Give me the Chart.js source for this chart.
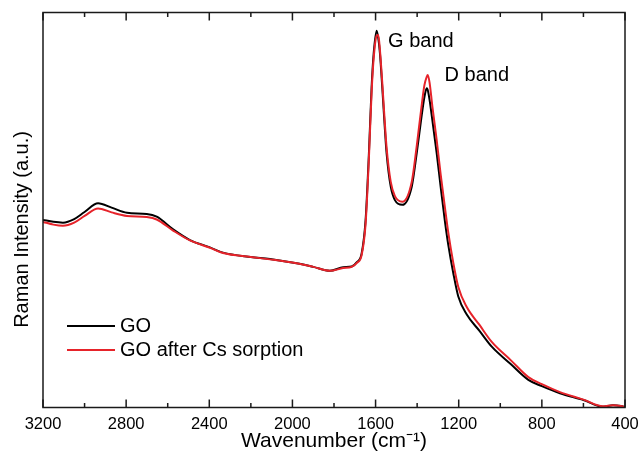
<!DOCTYPE html>
<html>
<head>
<meta charset="utf-8">
<script src="https://cdn.jsdelivr.net/npm/chart.js@4/dist/chart.umd.min.js"></script>
<style>
  body { margin: 0; background: #fff; }
  canvas { display: block; }
</style>
</head>
<body>
<canvas id="raman" width="638" height="455"></canvas>
<script>
// wavenumber (cm-1) and intensity (a.u.)
const wavenumbers = [3200, 3150, 3104, 3050, 3000, 2935, 2870, 2796, 2701, 2653, 2574, 2493, 2400, 2334, 2200, 2108, 1980, 1900, 1820, 1756, 1715, 1690, 1667, 1648, 1632, 1619, 1609, 1595, 1587, 1579, 1568, 1558, 1547, 1527, 1507, 1471, 1426, 1402, 1381, 1365, 1354, 1349, 1340, 1327, 1306, 1287, 1266, 1250, 1226, 1202, 1162, 1100, 1041, 950, 865, 800, 713, 600, 506, 458, 420, 400];
const goIntensity = [47.5, 47.0, 46.8, 47.7, 49.5, 51.7, 50.6, 49.3, 49.0, 48.3, 45.1, 42.4, 40.6, 39.2, 38.1, 37.6, 36.5, 35.6, 34.6, 35.5, 35.7, 36.8, 39.0, 47.5, 64.4, 81.2, 89.7, 95.4, 93.5, 89.7, 81.2, 72.8, 64.4, 55.9, 52.5, 51.3, 55.9, 64.4, 72.8, 78.6, 80.8, 80.4, 77.8, 72.8, 64.4, 55.9, 47.0, 41.1, 34.0, 28.1, 23.6, 19.4, 15.4, 11.0, 7.0, 5.4, 3.6, 1.9, 0.2, 0.6, 0.4, 0.1];
const goCsIntensity = [47.0, 46.3, 46.0, 46.8, 48.5, 50.4, 49.4, 48.5, 48.2, 47.6, 44.8, 42.3, 40.5, 39.1, 38.1, 37.5, 36.5, 35.6, 34.6, 35.3, 35.6, 36.6, 38.6, 46.5, 63.2, 79.9, 88.5, 94.1, 94.3, 90.5, 82.4, 74.1, 65.8, 57.1, 53.5, 52.1, 57.1, 66.2, 75.3, 81.6, 83.7, 84.2, 82.2, 76.3, 67.7, 59.1, 50.5, 44.2, 36.6, 30.5, 25.5, 20.9, 16.6, 12.0, 7.7, 5.9, 3.9, 2.0, 0.3, 0.6, 0.4, 0.1];
const seriesNames = ['GO', 'GO after Cs sorption'];
const seriesColors = ['#000000', '#e6232a'];
const xTickLabels = [3200, 2800, 2400, 2000, 1600, 1200, 800, 400];
const minorTicks = [3000, 2600, 2200, 1800, 1400, 1000, 600];
const bandLabels = [
  { text: 'G band', x: 1540, y: 92.6 },
  { text: 'D band', x: 1268, y: 84.0 }
];

const FONT = "'Liberation Sans', Arial, sans-serif";

function points(values) {
  return wavenumbers.map((w, i) => ({ x: w, y: values[i] }));
}

// frame with inward ticks, legend lines and the band labels
const decorations = {
  id: 'decorations',
  afterDraw(chart) {
    const ctx = chart.ctx;
    const area = chart.chartArea;
    const xs = chart.scales.x;
    const ys = chart.scales.y;
    ctx.save();
    ctx.strokeStyle = '#1a1a1a';
    ctx.lineWidth = 1.5;
    ctx.strokeRect(area.left, area.top, area.right - area.left, area.bottom - area.top);
    const tick = (v, len) => {
      const px = xs.getPixelForValue(v);
      ctx.beginPath();
      ctx.moveTo(px, area.bottom);
      ctx.lineTo(px, area.bottom - len);
      ctx.moveTo(px, area.top);
      ctx.lineTo(px, area.top + len);
      ctx.stroke();
    };
    xTickLabels.forEach(v => tick(v, 8));
    minorTicks.forEach(v => tick(v, 4.5));

    ctx.font = '20px ' + FONT;
    ctx.textBaseline = 'middle';
    ctx.textAlign = 'left';
    ctx.fillStyle = '#000';
    chart.data.datasets.forEach((ds, i) => {
      const y = 326 + i * 24;
      ctx.strokeStyle = ds.borderColor;
      ctx.lineWidth = 2;
      ctx.beginPath();
      ctx.moveTo(67, y);
      ctx.lineTo(115, y);
      ctx.stroke();
      ctx.fillText(ds.label, 120, y);
    });

    bandLabels.forEach(b => {
      ctx.fillText(b.text, xs.getPixelForValue(b.x), ys.getPixelForValue(b.y));
    });
    ctx.restore();
  }
};

new Chart(document.getElementById('raman'), {
  type: 'line',
  data: {
    datasets: [
      {
        label: seriesNames[0],
        data: points(goIntensity),
        borderColor: seriesColors[0],
        borderWidth: 2,
        pointRadius: 0,
        cubicInterpolationMode: 'monotone',
        order: 1
      },
      {
        label: seriesNames[1],
        data: points(goCsIntensity),
        borderColor: seriesColors[1],
        borderWidth: 2,
        pointRadius: 0,
        cubicInterpolationMode: 'monotone',
        order: 0
      }
    ]
  },
  options: {
    responsive: false,
    animation: false,
    layout: { padding: { top: 12.5, right: 13, bottom: 0, left: 0 } },
    plugins: {
      legend: { display: false },
      tooltip: { enabled: false }
    },
    scales: {
      x: {
        type: 'linear',
        reverse: true,
        min: 400,
        max: 3200,
        grid: { display: false, drawTicks: false },
        border: { display: false },
        afterFit(scale) {
          scale.height = 47.5;
          scale.paddingLeft = 0;
          scale.paddingRight = 0;
        },
        ticks: {
          stepSize: 400,
          padding: 9,
          color: '#000',
          maxRotation: 0,
          font: { family: FONT, size: 16.5, lineHeight: 1 },
          callback: v => String(v)
        },
        title: {
          display: true,
          text: 'Wavenumber (cm\u207B\u00B9)',
          color: '#000',
          font: { family: FONT, size: 21, lineHeight: 1 },
          padding: { top: 0, bottom: 3 }
        }
      },
      y: {
        min: 0,
        max: 100,
        grid: { display: false, drawTicks: false },
        border: { display: false },
        afterFit(scale) {
          scale.width = 43;
        },
        ticks: { display: false },
        title: {
          display: true,
          text: 'Raman Intensity (a.u.)       ',
          color: '#000',
          font: { family: FONT, size: 20, lineHeight: 1.2 },
          padding: { top: 10, bottom: 0 }
        }
      }
    }
  },
  plugins: [decorations]
});
</script>
</body>
</html>
